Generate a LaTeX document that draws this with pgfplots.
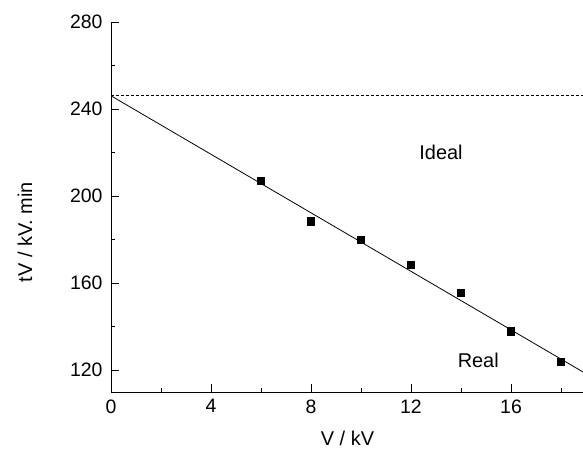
\documentclass[border=0pt]{standalone}
\usepackage{fontspec}
\setmainfont{Liberation Sans}
\usepackage{pgfplots}
\pgfplotsset{compat=1.18}
\begin{document}
\begin{tikzpicture}
\begin{axis}[
  scale only axis,
  width=472bp, height=370bp,
  xmin=0, xmax=18.88, ymin=110, ymax=280,
  axis x line=bottom, axis y line=left,
  axis line style={-, line width=0.9pt},
  tick align=inside,
  xtick={0,4,8,12,16}, ytick={120,160,200,240,280},
  minor xtick={2,6,10,14,18}, minor ytick={140,180,220,260},
  major tick length=8bp, minor tick length=4bp,
  tick style={line width=0.9pt, black},
  ticklabel style={font=\fontsize{19.5}{24}\selectfont},
  xticklabel style={yshift=-4bp},
  yticklabel style={xshift=-5bp},
  /pgf/number format/assume math mode=true,
  xlabel={V / kV}, ylabel={tV / kV. min},
  label style={font=\fontsize{20}{24}\selectfont},
  xlabel style={at={(axis description cs:0.501,-0.126)}, anchor=center},
  ylabel style={at={(axis description cs:-0.182,0.432)}, anchor=center},
  clip=false,
]
\addplot[only marks, mark=square*, mark size=3.6bp, black] coordinates {
 (6,207.2) (8,188.5) (10,179.8) (12,168.6) (14,155.7) (16,137.9) (18,124.0)
};
\addplot[black, line width=0.8pt] coordinates {(0,246.1) (18.88,119.2)};
\addplot[black, line width=0.8pt, dash pattern=on 3bp off 2bp] coordinates {(0,246.1) (18.88,246.1)};
\node[font=\fontsize{20}{24}\selectfont] at (axis cs:13.2,220.2) {Ideal};
\node[font=\fontsize{20}{24}\selectfont] at (axis cs:14.69,124.3) {Real};
\end{axis}
\pgfresetboundingbox
\path (-111bp,-57.3bp) rectangle (472bp,392bp);
\end{tikzpicture}
\end{document}
